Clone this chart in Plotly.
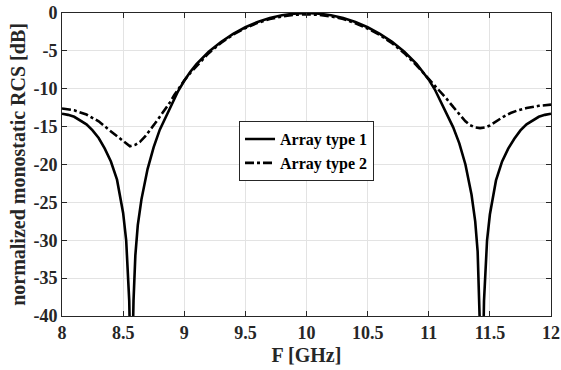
import plotly.graph_objects as go

# Array type 1 (solid)
f1 = [8.0, 8.05, 8.1, 8.15, 8.2, 8.25, 8.3, 8.35, 8.4, 8.45, 8.5, 8.525, 8.54, 8.55, 8.56,
      8.567, 8.575, 8.585, 8.6, 8.62, 8.65, 8.7, 8.75, 8.8, 8.85, 8.9, 8.95, 9.0, 9.05, 9.1,
      9.2, 9.3, 9.4, 9.5, 9.6, 9.7, 9.8, 9.9, 10.0,
      10.1, 10.2, 10.3, 10.4, 10.5, 10.6, 10.7, 10.8, 10.9, 10.95, 11.0, 11.05, 11.1, 11.15,
      11.2, 11.25, 11.3, 11.35, 11.38, 11.4, 11.415, 11.427, 11.435, 11.443, 11.452, 11.462,
      11.477, 11.5, 11.55, 11.6, 11.65, 11.7, 11.75, 11.8, 11.85, 11.9, 11.95, 12.0]
rcs1 = [-13.3, -13.45, -13.7, -14.2, -14.7, -15.5, -16.5, -17.9, -19.6, -22.0, -26.4, -30.0,
        -34.5, -38.0, -46.0, -80.0, -46.0, -38.0, -32.0, -28.0, -24.6, -20.6, -17.7, -15.4,
        -13.7, -11.9, -10.3, -8.95, -7.75, -6.75, -5.12, -3.82, -2.75, -1.88, -1.18, -0.66,
        -0.3, -0.08, 0.0,
        -0.08, -0.3, -0.66, -1.18, -1.88, -2.75, -3.8, -5.1, -6.7, -7.7, -8.8, -10.1, -11.7,
        -13.4, -15.1, -17.2, -20.0, -24.0, -27.5, -31.5, -37.0, -46.0, -80.0, -46.0, -38.0,
        -34.5, -30.0, -26.6, -22.1, -19.6, -17.9, -16.6, -15.5, -14.7, -14.2, -13.7, -13.45,
        -13.3]

# Array type 2 (dash-dot)
f2 = [8.0, 8.1, 8.2, 8.3, 8.39, 8.474, 8.52, 8.556, 8.6, 8.638, 8.68, 8.72, 8.76, 8.8, 8.84,
      8.883, 8.92, 8.965, 9.0, 9.05, 9.1, 9.2, 9.3, 9.4, 9.5, 9.6, 9.7, 9.8, 9.9, 10.0, 10.1,
      10.2, 10.3, 10.4, 10.5, 10.6, 10.7, 10.8, 10.9, 11.0, 11.04, 11.1, 11.15, 11.2, 11.26,
      11.3, 11.337, 11.38, 11.42, 11.46, 11.5, 11.55, 11.61, 11.67, 11.72, 11.8, 11.9, 12.0]
rcs2 = [-12.6, -12.85, -13.4, -14.3, -15.5, -16.6, -17.2, -17.6, -17.4, -17.0, -16.3, -15.5,
        -14.6, -13.7, -12.8, -11.8, -10.8, -9.7, -8.9, -7.9, -7.0, -5.3, -3.95, -2.85, -2.0,
        -1.3, -0.8, -0.45, -0.25, -0.18, -0.25, -0.45, -0.8, -1.35, -2.05, -2.9, -4.0, -5.3,
        -6.9, -8.7, -9.3, -10.4, -11.4, -12.4, -13.6, -14.3, -14.8, -15.1, -15.2, -15.1,
        -14.85, -14.3, -13.7, -13.2, -12.9, -12.55, -12.25, -12.1]

xticks = [8, 8.5, 9, 9.5, 10, 10.5, 11, 11.5, 12]
yticks = [0, -5, -10, -15, -20, -25, -30, -35, -40]

FONT = "Liberation Serif, Times New Roman, serif"

fig = go.Figure()
fig.add_trace(go.Scatter(x=f1, y=rcs1, mode="lines", name="Array type 1",
                         line=dict(color="black", width=2.6)))
fig.add_trace(go.Scatter(x=f2, y=rcs2, mode="lines", name="Array type 2",
                         line=dict(color="black", width=2.6, dash="dashdot")))

axis_common = dict(showline=True, linecolor="#262626", linewidth=1, mirror="ticks",
                   ticks="inside", ticklen=5, tickcolor="#262626", showgrid=True,
                   gridcolor="#e3e3e3", gridwidth=1, zeroline=False, automargin=False,
                   tickfont=dict(family=FONT, size=18, color="#262626", weight="bold"))

fig.update_layout(
    width=561, height=370,
    margin=dict(l=62, r=10, t=13, b=54),
    paper_bgcolor="white", plot_bgcolor="white",
    showlegend=True,
    legend=dict(x=0.362, y=0.643, xanchor="left", yanchor="top",
                bgcolor="white", bordercolor="#262626", borderwidth=1,
                font=dict(family=FONT, size=16, color="black", weight="bold"),
                tracegroupgap=0, itemwidth=30),
    xaxis=dict(range=[8, 12], tickvals=xticks, ticktext=[str(t) for t in xticks],
               title=dict(text="F [GHz]", standoff=6,
                          font=dict(family=FONT, size=20, color="#262626", weight="bold")),
               **axis_common),
    yaxis=dict(range=[-40, 0], tickvals=yticks, ticktext=[str(t) for t in yticks],
               title=dict(text="normalized monostatic RCS [dB]", standoff=2,
                          font=dict(family=FONT, size=20, color="#262626", weight="bold")),
               **axis_common),
)

# remove the browser's default 8px body margin so the figure fills the window
fig.write_html("out.html", config={"displayModeBar": False},
               post_script="document.body.style.margin='0';document.body.style.overflow='hidden';")
